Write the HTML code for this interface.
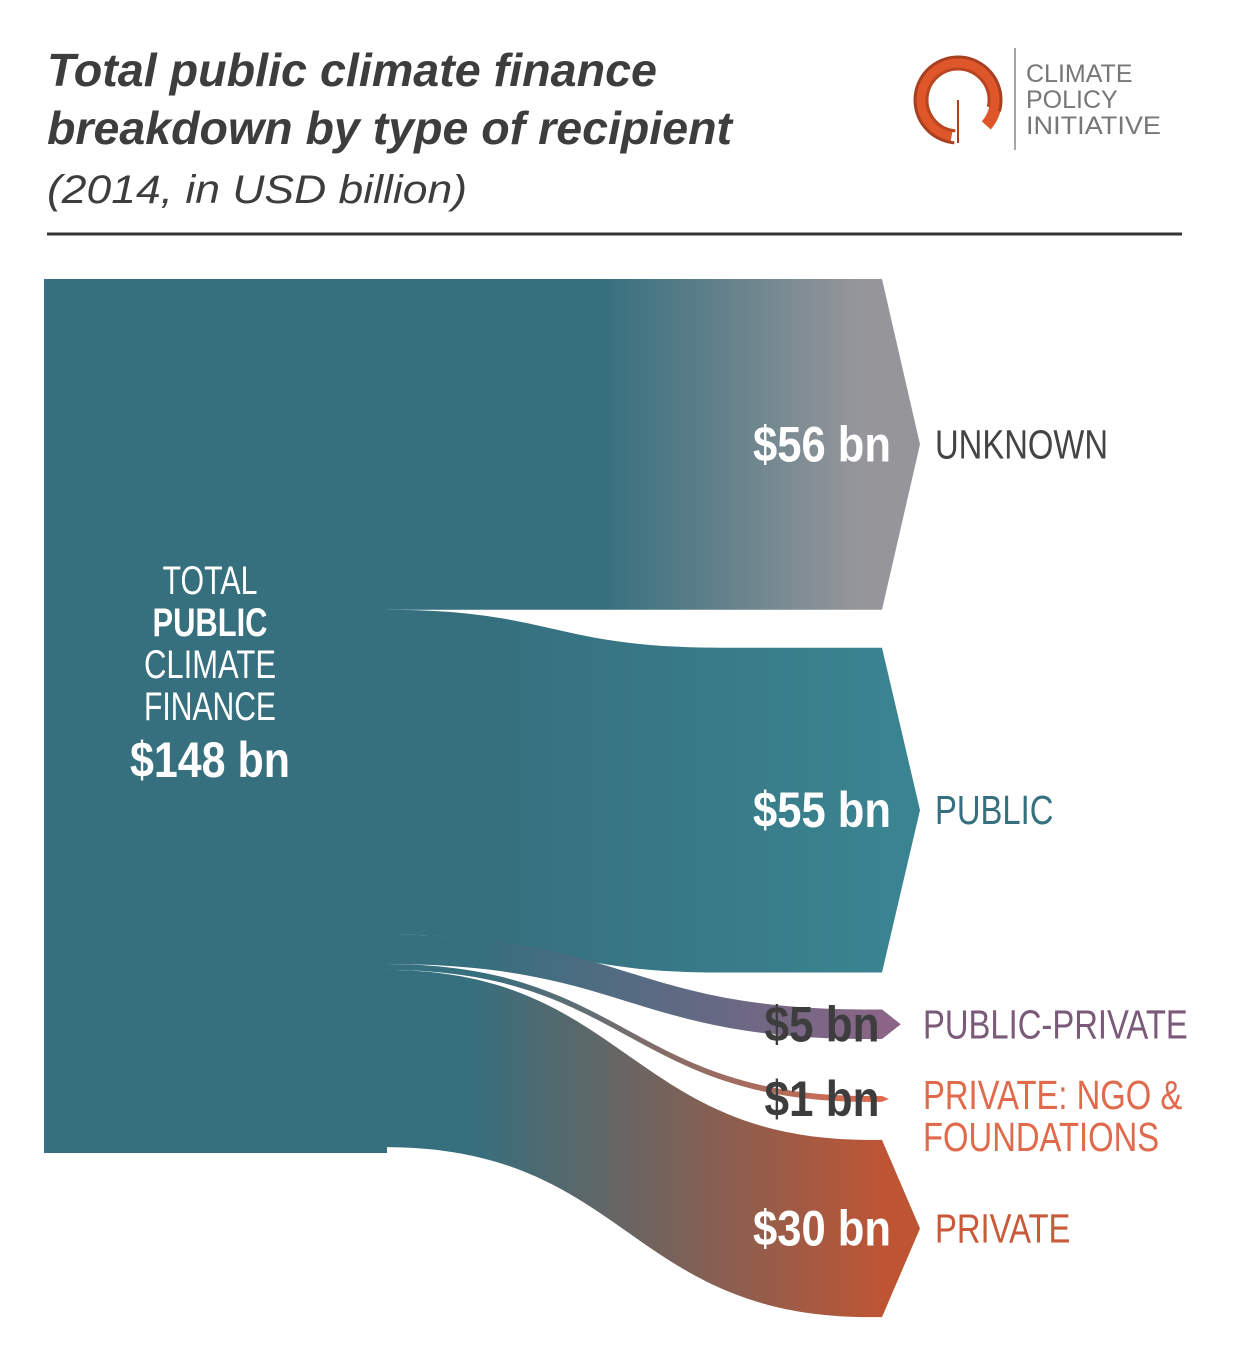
<!DOCTYPE html>
<html><head><meta charset="utf-8">
<style>
html,body{margin:0;padding:0;background:#fff;}
svg{display:block;}
text{font-family:"Liberation Sans",sans-serif;}
</style></head>
<body>
<svg id="chart" width="1250" height="1363" viewBox="0 0 1250 1363" xmlns="http://www.w3.org/2000/svg">
<defs id="defs"></defs>
<g>
<text x="47" y="86" font-size="46" font-weight="bold" font-style="italic" fill="#3d3d3d" textLength="610" lengthAdjust="spacingAndGlyphs">Total public climate finance</text>
<text x="47" y="144" font-size="46" font-weight="bold" font-style="italic" fill="#3d3d3d" textLength="685" lengthAdjust="spacingAndGlyphs">breakdown by type of recipient</text>
</g>
<text x="47" y="203" font-size="40" font-style="italic" fill="#3d3d3d" textLength="420" lengthAdjust="spacingAndGlyphs">(2014, in USD billion)</text>
<line x1="47" y1="234" x2="1182" y2="234" stroke="#333" stroke-width="3"/>
<g>
<circle cx="958" cy="100" r="38" fill="none" stroke="#e0562b" stroke-width="12" stroke-dasharray="200 39" transform="rotate(100 958 100)"/>
<circle cx="958" cy="100" r="43" fill="none" stroke="#a8401f" stroke-width="3" stroke-dasharray="210 60" transform="rotate(95 958 100)"/>
<circle cx="958" cy="100" r="31" fill="none" stroke="#b8451f" stroke-width="3" stroke-dasharray="150 45" transform="rotate(95 958 100)"/>
<line x1="958" y1="100" x2="958" y2="143" stroke="#a8401f" stroke-width="2"/>
<line x1="1015" y1="48" x2="1015" y2="150" stroke="#888" stroke-width="1.5"/>
<text x="1026" y="82" font-family="Liberation Serif,serif" font-size="25" fill="#777">CLIMATE</text>
<text x="1026" y="108" font-family="Liberation Serif,serif" font-size="25" fill="#777">POLICY</text>
<text x="1026" y="134" font-family="Liberation Serif,serif" font-size="25" fill="#777" textLength="135" lengthAdjust="spacingAndGlyphs">INITIATIVE</text>
</g>
<g id="flows"></g>
<g id="labels"></g>
<g fill="#fff" text-anchor="middle">
<text x="210" y="594" font-size="40" textLength="95" lengthAdjust="spacingAndGlyphs">TOTAL</text>
<text x="210" y="636" font-size="40" font-weight="bold" textLength="115" lengthAdjust="spacingAndGlyphs">PUBLIC</text>
<text x="210" y="678" font-size="40" textLength="132" lengthAdjust="spacingAndGlyphs">CLIMATE</text>
<text x="210" y="720" font-size="40" textLength="132" lengthAdjust="spacingAndGlyphs">FINANCE</text>
<text x="210" y="777" font-size="50" font-weight="bold" textLength="160" lengthAdjust="spacingAndGlyphs">$148 bn</text>
</g>
<script>
const categories = ["UNKNOWN", "PUBLIC", "PUBLIC-PRIVATE", "PRIVATE: NGO & FOUNDATIONS", "PRIVATE"];
const values = [56, 55, 5, 1, 30];
const total = 148;
const valueLabels = ["$56 bn", "$55 bn", "$5 bn", "$1 bn", "$30 bn"];
const endColors = ["#96969a", "#3a8390", "#8a6587", "#e06b4f", "#bd5535"];
const catColors = ["#444444", "#36707e", "#7a5a78", "#df6a4c", "#c85a3a"];

const NS = "http://www.w3.org/2000/svg";
const srcX0 = 44, srcX1 = 385, srcTop = 279, srcBot = 1153;
const dstX = 882;
const scale = (srcBot - srcTop) / total;
const gaps = [0, 38, 37, 57, 38];
const gradStart = [600, 480, 480, 480, 470];
const flows = document.getElementById('flows');
const labels = document.getElementById('labels');
const defs = document.getElementById('defs');

const src = document.createElementNS(NS, 'rect');


src.setAttribute('x', srcX0); src.setAttribute('y', srcTop);
src.setAttribute('width', srcX1 - srcX0 + 2); src.setAttribute('height', srcBot - srcTop);
src.setAttribute('fill', '#366f7e');
flows.appendChild(src);

let sy = srcTop, dy = srcTop;
values.forEach((v, i) => {
  const h = v * scale;
  dy += gaps[i];
  const g = document.createElementNS(NS, 'linearGradient');
  g.setAttribute('id', 'gr' + i);
  g.setAttribute('gradientUnits', 'userSpaceOnUse');
  g.setAttribute('x1', gradStart[i]); g.setAttribute('x2', i === 0 ? 860 : dstX); g.setAttribute('y1', 0); g.setAttribute('y2', 0);
  const s0 = document.createElementNS(NS, 'stop');
  s0.setAttribute('offset', '0'); s0.setAttribute('stop-color', '#366f7e');
  const s1 = document.createElementNS(NS, 'stop');
  s1.setAttribute('offset', '1'); s1.setAttribute('stop-color', endColors[i]);
  g.appendChild(s0); g.appendChild(s1);
  defs.appendChild(g);
  const endX = i === 1 ? 720 : (i === 0 ? 700 : 870);
  const mx = (srcX1 + endX) / 2;
  const tip = Math.min(38, h / 2 + 4);
  const d = `M${srcX1},${sy} C${mx},${sy} ${mx},${dy} ${endX},${dy} L${dstX},${dy} L${dstX + tip},${dy + h / 2} L${dstX},${dy + h} L${endX},${dy + h} C${mx},${dy + h} ${mx},${sy + h} ${srcX1},${sy + h} Z`;
  const p = document.createElementNS(NS, 'path');
  
  
  p.setAttribute('d', d);
  p.setAttribute('fill', 'url(#gr' + i + ')');
  flows.appendChild(p);
  const cy = dy + h / 2;
  const big = h > 100;
  const vt = document.createElementNS(NS, 'text');
  
  
  vt.setAttribute('x', 822); vt.setAttribute('y', cy + 17);
  vt.setAttribute('text-anchor', 'middle');
  vt.setAttribute('font-size', '50'); vt.setAttribute('font-weight', 'bold');
  vt.setAttribute('fill', big ? '#fff' : '#3d3d3d');
  vt.setAttribute('textLength', valueLabels[i].length * 23);
  vt.setAttribute('lengthAdjust', 'spacingAndGlyphs');
  vt.textContent = valueLabels[i];
  labels.appendChild(vt);
  const lx = big ? 935 : 923;
  const parts = categories[i] === "PRIVATE: NGO & FOUNDATIONS" ? ["PRIVATE: NGO &", "FOUNDATIONS"] : [categories[i]];
  parts.forEach((t, k) => {
    const ct = document.createElementNS(NS, 'text');
    
    
    ct.setAttribute('transform', `translate(${lx},${cy + 14 + k * 42 + (parts.length > 1 ? -4 : 0)}) scale(0.8,1)`);
    ct.setAttribute('font-size', '41'); ct.setAttribute('fill', catColors[i]);
    ct.textContent = t;
    labels.appendChild(ct);
  });
  sy += h; dy += h;
});
</script>
</svg>
</body></html>
